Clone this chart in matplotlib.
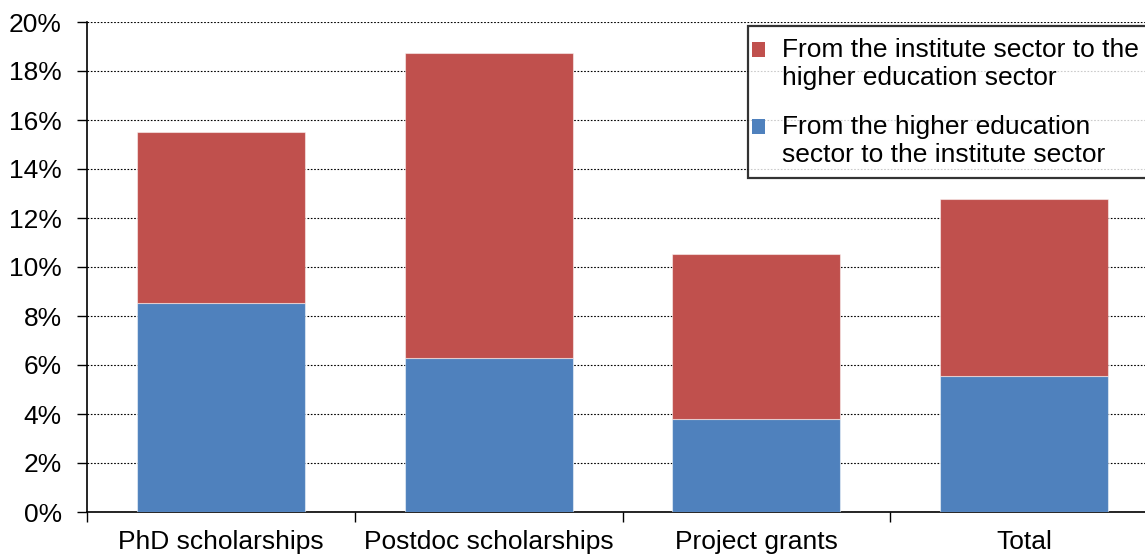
import matplotlib.pyplot as plt
import numpy as np
from matplotlib.patches import Patch, Rectangle
from matplotlib.legend_handler import HandlerPatch
from matplotlib.ticker import PercentFormatter

categories = ["PhD scholarships", "Postdoc scholarships", "Project grants", "Total"]
higher_to_institute = [8.55, 6.27, 3.80, 5.55]
institute_to_higher = [6.95, 12.48, 6.73, 7.23]

label_hi = "From the higher education\nsector to the institute sector"
label_ih = "From the institute sector to the\nhigher education sector"

blue = "#4F81BD"
red = "#C0504D"

plt.rcParams["font.family"] = ["Liberation Sans", "DejaVu Sans"]


class FirstLineSquare(HandlerPatch):
    # put the legend square next to the first line of a two-line label
    def create_artists(self, legend, orig_handle, xdescent, ydescent,
                       width, height, fontsize, trans):
        p = Rectangle((-xdescent - 0.3 * fontsize, -ydescent + 0.55 * fontsize),
                      width, height,
                      facecolor=orig_handle.get_facecolor(), edgecolor="none",
                      transform=trans)
        return [p]


fig = plt.figure(figsize=(11.45, 5.54), dpi=100)
ax = fig.add_axes([87 / 1145, 1 - 512 / 554, 1071 / 1145, 490 / 554])

x = np.arange(len(categories))
w = 0.627
ax.bar(x, higher_to_institute, w, color=blue, edgecolor=(1, 1, 1, 0.5), linewidth=0.8, zorder=3)
ax.bar(x, institute_to_higher, w, bottom=higher_to_institute, color=red,
       edgecolor=(1, 1, 1, 0.5), linewidth=0.8, zorder=3)

ax.set_xlim(-0.5, len(categories) - 0.5)
ax.set_ylim(0, 20)
ax.set_yticks(np.arange(0, 21, 2))
ax.yaxis.set_major_formatter(PercentFormatter(decimals=0))
ax.grid(axis="y", color="black", linestyle=(0, (1.5, 1.5)), linewidth=0.8, zorder=0)

# labels centred, tick marks on category boundaries
ax.set_xticks(x)
ax.set_xticklabels(categories)
ax.set_xticks(np.arange(-0.5, len(categories)), minor=True)
ax.tick_params(axis="x", which="major", length=0, pad=13, labelsize=19)
ax.tick_params(axis="x", which="minor", length=7, width=1, direction="out")
ax.tick_params(axis="y", length=7, width=1, pad=11, labelsize=19)

for s in ["top", "right"]:
    ax.spines[s].set_visible(False)
for s in ["left", "bottom"]:
    ax.spines[s].set_linewidth(1.2)

handles = [Patch(facecolor=red), Patch(facecolor=blue)]
leg = fig.legend(handles, [label_ih, label_hi], loc="upper left",
                 bbox_to_anchor=(748 / 1145, 1 - 26 / 554), fontsize=19,
                 frameon=True, fancybox=False, edgecolor="black",
                 handler_map={Patch: FirstLineSquare()},
                 handlelength=0.5, handleheight=0.5, handletextpad=0.35,
                 labelspacing=0.95, borderpad=0.45, borderaxespad=0)
leg.get_frame().set_linewidth(1.6)
for t in leg.get_texts():
    t.set_linespacing(1.2)

fig.savefig("out.png", dpi=100)
